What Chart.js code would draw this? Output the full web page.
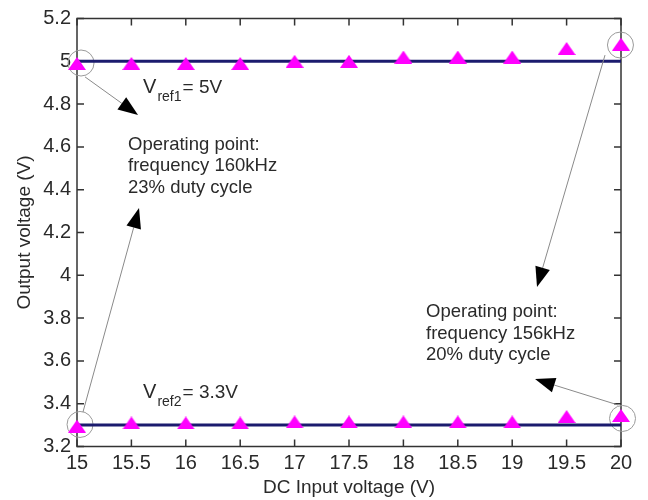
<!DOCTYPE html>
<html><head><meta charset="utf-8">
<script src="https://cdn.jsdelivr.net/npm/chart.js@4.4.0/dist/chart.umd.min.js"></script>
<style>html,body{margin:0;padding:0;background:#fff}#wrap{width:648px;height:500px}</style>
</head><body><div id="wrap"><canvas id="c" width="648" height="500"></canvas></div>
<script>
// ---- data ----
const inputVoltage = [15, 15.5, 16, 16.5, 17, 17.5, 18, 18.5, 19, 19.5, 20];
const output5V = [4.99, 4.99, 4.99, 4.99, 5.0, 5.0, 5.02, 5.02, 5.02, 5.06, 5.08];
const output33V = [3.295, 3.31, 3.31, 3.31, 3.315, 3.315, 3.315, 3.315, 3.315, 3.34, 3.345];
const refRange = [15, 20];
const vref1 = 5;
const vref2 = 3.3;
const xTicks = [15, 15.5, 16, 16.5, 17, 17.5, 18, 18.5, 19, 19.5, 20];
const xTickLabels = ['15', '15.5', '16', '16.5', '17', '17.5', '18', '18.5', '19', '19.5', '20'];
const yTicks = [3.2, 3.4, 3.6, 3.8, 4, 4.2, 4.4, 4.6, 4.8, 5, 5.2];
const yTickLabels = ['3.2', '3.4', '3.6', '3.8', '4', '4.2', '4.4', '4.6', '4.8', '5', '5.2'];
// highlight circles (data units)
const circleX = [15.037, 19.995, 15.028, 20.014];
const circleY = [4.992, 5.076, 3.303, 3.331];
// annotation arrows (data units): [x1, y1, x2(tip), y2(tip)]
const arrowFrom = [[15.074, 4.927], [15.055, 3.361], [19.853, 5.029], [19.973, 3.394]];
const arrowTo = [[15.561, 4.749], [15.570, 4.314], [19.228, 3.945], [19.210, 3.515]];
// text annotations
const leftNote = ['Operating point:', 'frequency 160kHz', '23% duty cycle'];
const rightNote = ['Operating point:', 'frequency 156kHz', '20% duty cycle'];
const leftNotePos = [15.469, 4.586];
const rightNotePos = [18.208, 3.805];
const vrefLabels = [['V', 'ref1', '= 5V'], ['V', 'ref2', '= 3.3V']];
const vrefLabelPos = [[15.607, 4.852], [15.607, 3.427]];

// ---- helpers ----
const FONT = '"Liberation Sans", Arial, Helvetica, sans-serif';
const TXT = '#2a2a2a';
function triMarker(w, h, color) {
  const c = document.createElement('canvas');
  c.width = w; c.height = h;
  const g = c.getContext('2d');
  g.fillStyle = color;
  g.beginPath(); g.moveTo(w / 2, 0); g.lineTo(w, h); g.lineTo(0, h); g.closePath(); g.fill();
  return c;
}
const tri = triMarker(18, 13, '#ff00ff');

const framePlugin = {
  id: 'frame',
  beforeDatasetsDraw(chart) {
    const {ctx, chartArea: a, scales: {x, y}} = chart;
    ctx.save();
    ctx.strokeStyle = '#333';
    ctx.lineWidth = 1.5;
    ctx.strokeRect(a.left, a.top, a.right - a.left, a.bottom - a.top);
    ctx.beginPath();
    const L = 7;
    xTicks.forEach(v => {
      const px = x.getPixelForValue(v);
      ctx.moveTo(px, a.bottom); ctx.lineTo(px, a.bottom - L);
      ctx.moveTo(px, a.top); ctx.lineTo(px, a.top + L);
    });
    yTicks.forEach(v => {
      const py = y.getPixelForValue(v);
      ctx.moveTo(a.left, py); ctx.lineTo(a.left + L, py);
      ctx.moveTo(a.right, py); ctx.lineTo(a.right - L, py);
    });
    ctx.stroke();
    ctx.restore();
  }
};

const notesPlugin = {
  id: 'notes',
  afterDatasetsDraw(chart) {
    const {ctx, scales: {x, y}} = chart;
    ctx.save();
    // arrows
    for (let i = 0; i < arrowFrom.length; i++) {
      const x1 = x.getPixelForValue(arrowFrom[i][0]), y1 = y.getPixelForValue(arrowFrom[i][1]);
      const x2 = x.getPixelForValue(arrowTo[i][0]), y2 = y.getPixelForValue(arrowTo[i][1]);
      const ang = Math.atan2(y2 - y1, x2 - x1);
      const HL = 20, HW = 7.5;
      const bx = x2 - HL * Math.cos(ang), by = y2 - HL * Math.sin(ang);
      ctx.strokeStyle = '#8a8a8a'; ctx.lineWidth = 1;
      ctx.beginPath(); ctx.moveTo(x1, y1); ctx.lineTo(bx, by); ctx.stroke();
      ctx.fillStyle = '#000';
      ctx.beginPath();
      ctx.moveTo(x2, y2);
      ctx.lineTo(bx - HW * Math.sin(ang), by + HW * Math.cos(ang));
      ctx.lineTo(bx + HW * Math.sin(ang), by - HW * Math.cos(ang));
      ctx.closePath(); ctx.fill();
    }
    // notes
    ctx.fillStyle = TXT;
    ctx.textBaseline = 'alphabetic';
    ctx.textAlign = 'left';
    ctx.font = '18.5px ' + FONT;
    const drawBlock = (lines, pos) => {
      const px = x.getPixelForValue(pos[0]), py = y.getPixelForValue(pos[1]);
      lines.forEach((t, k) => ctx.fillText(t, px, py + k * 21.5));
    };
    drawBlock(leftNote, leftNotePos);
    drawBlock(rightNote, rightNotePos);
    // Vref labels with subscripts
    vrefLabels.forEach((parts, k) => {
      let px = x.getPixelForValue(vrefLabelPos[k][0]);
      const py = y.getPixelForValue(vrefLabelPos[k][1]);
      ctx.font = '20px ' + FONT;
      ctx.fillText(parts[0], px, py);
      px += ctx.measureText(parts[0]).width + 1;
      ctx.font = '14px ' + FONT;
      ctx.fillText(parts[1], px, py + 8);
      px += ctx.measureText(parts[1]).width + 1;
      ctx.font = '19px ' + FONT;
      ctx.fillText(parts[2], px, py);
    });
    ctx.restore();
  }
};

const pts = (xs, ys) => xs.map((v, i) => ({x: v, y: ys[i]}));

new Chart(document.getElementById('c'), {
  type: 'scatter',
  data: {
    datasets: [
      {label: 'Measured 5V', data: pts(inputVoltage, output5V), pointStyle: tri, pointRadius: 9,
       backgroundColor: '#ff00ff', borderColor: '#ff00ff', showLine: false, order: 0, clip: false},
      {label: 'Measured 3.3V', data: pts(inputVoltage, output33V), pointStyle: tri, pointRadius: 9,
       backgroundColor: '#ff00ff', borderColor: '#ff00ff', showLine: false, order: 0, clip: false},
      {label: 'Vref1', data: pts(refRange, [vref1, vref1]), showLine: true, borderColor: '#1b1b6e',
       borderWidth: 3, pointRadius: 0, order: 1, clip: false},
      {label: 'Vref2', data: pts(refRange, [vref2, vref2]), showLine: true, borderColor: '#1b1b6e',
       borderWidth: 3, pointRadius: 0, order: 1, clip: false},
      {label: 'Circles', data: pts(circleX, circleY), pointStyle: 'circle', pointRadius: 13,
       backgroundColor: 'rgba(0,0,0,0)', borderColor: '#9a9a9a', borderWidth: 1, showLine: false,
       order: 2, clip: false}
    ]
  },
  options: {
    responsive: false,
    animation: false,
    devicePixelRatio: 1,
    layout: {padding: {left: 0, top: 18.5, right: 27, bottom: 0}},
    plugins: {legend: {display: false}, tooltip: {enabled: false}},
    scales: {
      x: {
        type: 'linear', min: 15, max: 20,
        afterBuildTicks: s => { s.ticks = xTicks.map(v => ({value: v})); },
        afterFit: s => { s.height = 53.5; },
        grid: {display: false, drawTicks: false},
        border: {display: false},
        ticks: {
          padding: 5, color: TXT, font: {family: FONT, size: 20}, maxRotation: 0,
          callback: (v) => { const i = xTicks.indexOf(v); return i >= 0 ? xTickLabels[i] : ''; }
        },
        title: {display: true, text: 'DC Input voltage (V)', color: TXT,
                font: {family: FONT, size: 19}, padding: {top: 0, bottom: 1}}
      },
      y: {
        type: 'linear', min: 3.2, max: 5.2,
        afterBuildTicks: s => { s.ticks = yTicks.map(v => ({value: v})); },
        afterFit: s => { s.width = 77; },
        grid: {display: false, drawTicks: false},
        border: {display: false},
        ticks: {
          padding: 6, color: TXT, font: {family: FONT, size: 20},
          callback: (v) => { const i = yTicks.indexOf(v); return i >= 0 ? yTickLabels[i] : ''; }
        },
        title: {display: true, text: 'Output voltage (V)', color: TXT,
                font: {family: FONT, size: 19}, padding: {top: 13, bottom: 0}}
      }
    }
  },
  plugins: [framePlugin, notesPlugin]
});
</script>
</body></html>
